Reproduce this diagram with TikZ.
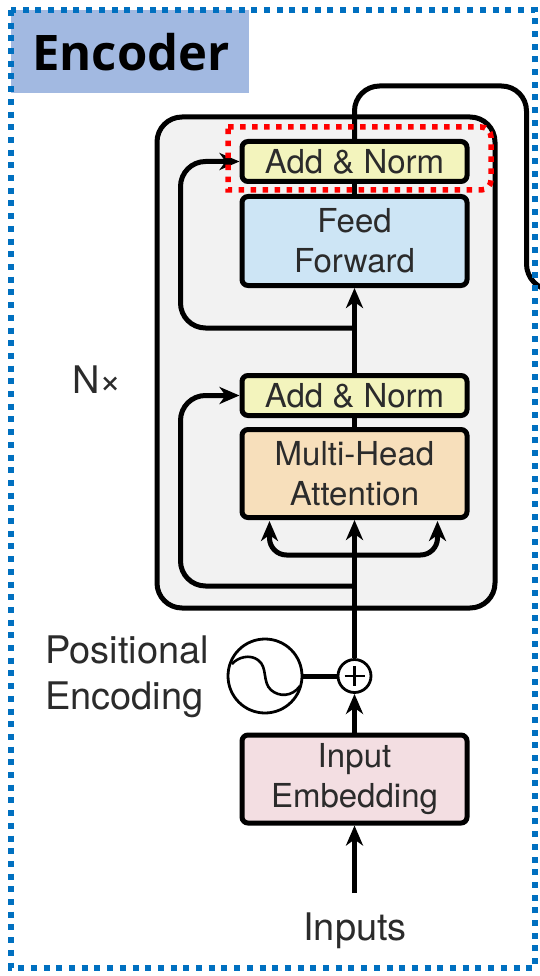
\documentclass[tikz,border=0pt]{standalone}
\usepackage{fontspec}
\setmainfont{TeX Gyre Heros}
\newfontfamily\titlefont{Open Sans}
\usetikzlibrary{arrows.meta}

\definecolor{normfill}{HTML}{F3F4BD}
\definecolor{ffnfill}{HTML}{CDE5F5}
\definecolor{attnfill}{HTML}{F7DFBB}
\definecolor{embfill}{HTML}{F3DEE2}
\definecolor{stackfill}{HTML}{F2F2F2}
\definecolor{titlefill}{HTML}{A2B9E1}
\definecolor{framecol}{HTML}{0070C0}
\definecolor{labelcol}{HTML}{2B2B2B}

\begin{document}
\begin{tikzpicture}[
    x=1pt, y=-1pt,
    >={Stealth[length=20pt,width=17pt,inset=6pt]},
    blk/.style={rectangle, draw, line width=5pt, rounded corners=6pt, minimum width=225pt,
        align=center, text=labelcol, font=\fontsize{33}{40}\selectfont},
    norm/.style={blk, fill=normfill, minimum height=40pt},
    ffn/.style={blk, fill=ffnfill, minimum height=89pt},
    attn/.style={blk, fill=attnfill, minimum height=88pt},
    emb/.style={blk, fill=embfill, minimum height=88pt},
    lbl/.style={text=labelcol, font=\fontsize{38}{46}\selectfont, align=left},
    conn/.style={line width=5pt, rounded corners=25pt},
]
\useasboundingbox (0,0) rectangle (539,976);

% Title
\node[fill=titlefill, minimum width=238pt, minimum height=83pt, inner sep=0pt] (title) at (130,52) {};
\node[font=\titlefont\bfseries\fontsize{49}{50}\selectfont] (titletext) at (131,52) {Encoder};

% Grey box behind the layer
\node[rectangle, draw, line width=5pt, rounded corners=25pt, fill=stackfill,
    minimum width=338pt, minimum height=491pt] (stack) at (326,362.5) {};

% Blocks
\node[norm] (norm2) at (354.5,161.5) {Add \& Norm};
\node[ffn]  (ffn)   at (354.5,241) {Feed\\Forward};
\node[norm] (norm1) at (354.5,395.5) {Add \& Norm};
\node[attn] (attn)  at (354.5,473.5) {Multi-Head\\Attention};
\node[emb]  (emb)   at (354.5,779) {Input\\Embedding};

% Positional encoding
\node[circle, draw, line width=2.8pt, fill=white, minimum size=74pt, inner sep=0pt] (wave) at (265,676) {};
\node[circle, draw, line width=2.8pt, fill=white, minimum size=33pt, inner sep=0pt] (plus) at (354.5,676) {};
\draw[line width=2.6pt] (232,664) .. controls (238,657) and (250,654) .. (258,660)
    .. controls (268,667) and (262,682) .. (271,690)
    .. controls (279,697) and (292,697) .. (300,686);
\draw[line width=2.4pt] (plus) ++(-10,0) -- ++(20,0);
\draw[line width=2.4pt] (plus) ++(0,-10) -- ++(0,20);

% Labels
\node[lbl] (nx) at (97,380) {N×};
\node[lbl] (posenc) at (127,677) {Positional\\Encoding};
\node[lbl] (inputs) at (355,931) {Inputs};

% Free ends
\coordinate (inputstart) at (354.5,893);
\coordinate (skiptop) at (354.5,328);
\coordinate (skipbottom) at (354.5,586);
\coordinate (split) at (354.5,555);
\coordinate (outend) at (545,290);

% Connectors
\draw[conn,->] (inputstart) -- (emb.south);
\draw[conn,->] (emb.north) -- (plus.south);
\draw[conn] (wave.east) -- (plus.west);
\draw[conn,->] (plus.north) -- (attn.south);
\draw[conn,->,rounded corners=17pt] (split) -- ++(-85,0) -- ++(0,-34);
\draw[conn,->,rounded corners=17pt] (split) -- ++(83,0) -- ++(0,-34);
\draw[conn,->] (skipbottom) -- ++(-174,0) |- (norm1.west);
\draw[conn] (attn.north) -- (norm1.south);
\draw[conn,->] (norm1.north) -- (ffn.south);
\draw[conn,->] (skiptop) -- ++(-174,0) |- (norm2.west);
\draw[conn] (ffn.north) -- (norm2.south);
\draw[conn] (norm2.north) -- ++(0,-53) -- ++(172,0) -- ++(0,203) -- (outend);

% Dotted frames
\draw[framecol, line width=5.5pt, dash pattern=on 6pt off 6.7pt] (11,10) rectangle (535,968);
\draw[red, line width=5.5pt, dash pattern=on 5.5pt off 6.5pt] (228,127) -- (480,127)
    [rounded corners=10pt] -- (491,127) -- (491,190) [sharp corners] -- (228,190) -- cycle;

\end{tikzpicture}
\end{document}
